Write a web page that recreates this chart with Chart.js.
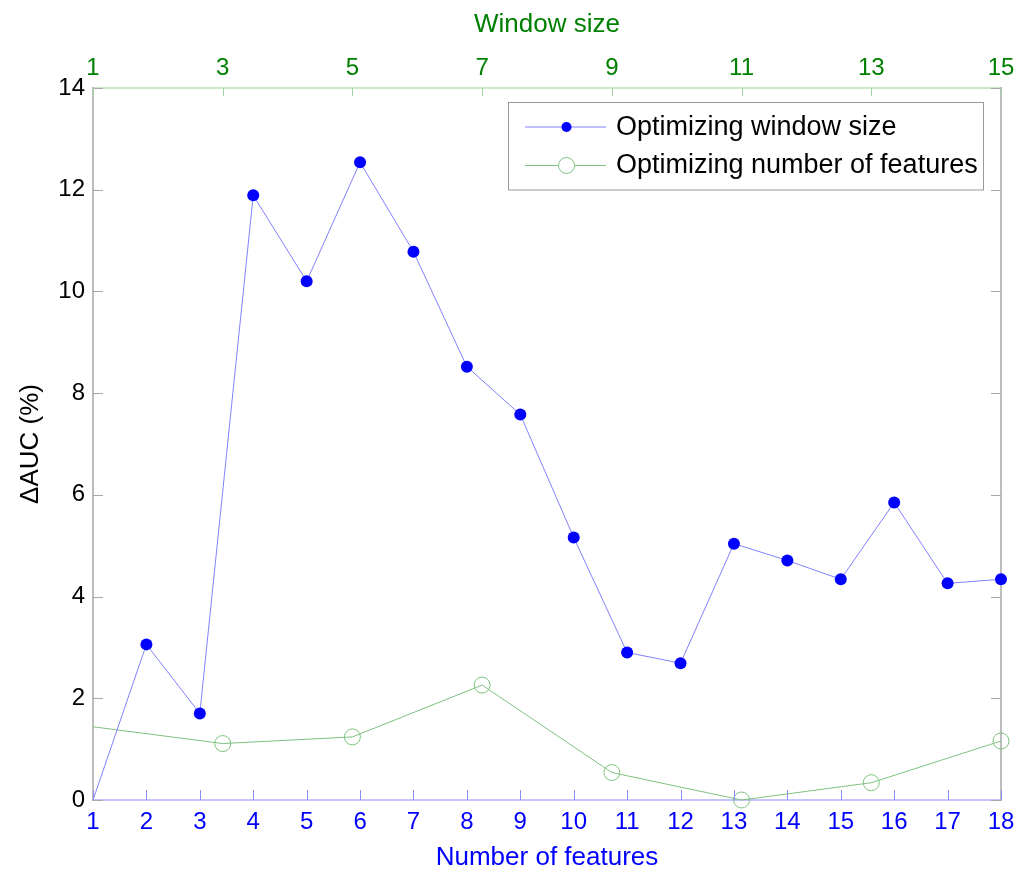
<!DOCTYPE html>
<html><head><meta charset="utf-8">
<script src="https://cdn.jsdelivr.net/npm/chart.js@4.4.1/dist/chart.umd.min.js"></script>
<style>html,body{margin:0;padding:0;background:#fff;overflow:hidden}#wrap{width:1031px;height:869px}</style>
</head><body><div id="wrap"><canvas id="c" width="1031" height="869"></canvas></div>
<script>
// ---- data ----
const featureCounts = [1,2,3,4,5,6,7,8,9,10,11,12,13,14,15,16,17,18];
const windowSizeDeltaAUC = [0,3.06,1.70,11.89,10.20,12.54,10.78,8.52,7.58,5.16,2.90,2.69,5.04,4.71,4.34,5.85,4.26,4.34];
const windowSizes = [1,3,5,7,9,11,13,15];
const featuresDeltaAUC = [1.44,1.11,1.24,2.26,0.54,0.00,0.34,1.16];
const yTickValues = [0,2,4,6,8,10,12,14];
const bottomTickValues = [1,2,3,4,5,6,7,8,9,10,11,12,13,14,15,16,17,18];
const topTickValues = [1,3,5,7,9,11,13,15];
const seriesLabels = ['Optimizing window size','Optimizing number of features'];

const FONT = '"Liberation Sans", Arial, sans-serif';
Chart.defaults.font.family = FONT;

const innerTicks = {
  id: 'innerTicks',
  afterDraw(chart) {
    const ctx = chart.ctx, a = chart.chartArea;
    const sx = chart.scales.x, st = chart.scales.xTop, sy = chart.scales.y;
    ctx.save();
    ctx.lineWidth = 1;
    ctx.strokeStyle = '#a8a8a8';
    ctx.beginPath();
    sy.ticks.forEach(t => {
      const p = Math.round(sy.getPixelForValue(t.value)) + 0.5;
      ctx.moveTo(a.left, p); ctx.lineTo(a.left + 10, p);
      ctx.moveTo(a.right - 10, p); ctx.lineTo(a.right, p);
    });
    ctx.stroke();
    ctx.strokeStyle = '#8c8cff';
    ctx.beginPath();
    sx.ticks.forEach(t => {
      const p = Math.round(sx.getPixelForValue(t.value)) + 0.5;
      ctx.moveTo(p, a.bottom - 10); ctx.lineTo(p, a.bottom);
    });
    ctx.stroke();
    ctx.strokeStyle = '#9fd39f';
    ctx.beginPath();
    st.ticks.forEach(t => {
      const p = Math.round(st.getPixelForValue(t.value)) + 0.5;
      ctx.moveTo(p, a.top); ctx.lineTo(p, a.top + 8);
    });
    ctx.stroke();
    ctx.restore();
  }
};

const boxLegend = {
  id: 'boxLegend',
  afterDraw(chart) {
    const ctx = chart.ctx;
    const bx = 508, by = 102.5, bw = 475, bh = 87.5;
    ctx.save();
    ctx.fillStyle = '#fff';
    ctx.fillRect(bx, by, bw, bh);
    ctx.strokeStyle = '#9a9a9a';
    ctx.lineWidth = 1;
    ctx.strokeRect(bx + 0.5, by, bw, bh);
    const rows = [126.5, 165];
    chart.data.datasets.forEach((ds, i) => {
      const yy = rows[i] + 0.5;
      ctx.strokeStyle = ds.borderColor;
      ctx.lineWidth = 1;
      ctx.beginPath(); ctx.moveTo(525, yy); ctx.lineTo(606, yy); ctx.stroke();
      ctx.beginPath();
      ctx.arc(566.5, yy, i === 0 ? 5 : 8, 0, Math.PI * 2);
      if (i === 0) { ctx.fillStyle = ds.pointBackgroundColor; ctx.fill(); }
      else { ctx.fillStyle = '#fff'; ctx.fill(); ctx.strokeStyle = ds.pointBorderColor; ctx.stroke(); }
      ctx.fillStyle = '#000';
      ctx.font = '27px ' + FONT;
      ctx.textBaseline = 'middle';
      ctx.textAlign = 'left';
      ctx.fillText(ds.label, 616, rows[i] + 1);
    });
    ctx.restore();
  }
};

new Chart(document.getElementById('c'), {
  type: 'line',
  data: {
    datasets: [
      {
        label: seriesLabels[0],
        data: featureCounts.map((f, i) => ({x: f, y: windowSizeDeltaAUC[i]})),
        xAxisID: 'x', yAxisID: 'y',
        borderColor: '#8080ff', borderWidth: 1,
        pointRadius: featureCounts.map((f, i) => i === 0 ? 0 : 6),
        pointBackgroundColor: '#0000ff', pointBorderColor: '#0000ff', pointBorderWidth: 0,
        tension: 0, clip: false
      },
      {
        label: seriesLabels[1],
        data: windowSizes.map((w, i) => ({x: w, y: featuresDeltaAUC[i]})),
        xAxisID: 'xTop', yAxisID: 'y',
        borderColor: '#7fc27f', borderWidth: 1,
        pointRadius: windowSizes.map((w, i) => i === 0 ? 0 : 8),
        pointBackgroundColor: 'rgba(0,0,0,0)', pointBorderColor: '#7fc27f', pointBorderWidth: 1,
        tension: 0, clip: false
      }
    ]
  },
  options: {
    responsive: false,
    animation: false,
    layout: {padding: {left: 0, right: 30, top: 0, bottom: 0}},
    plugins: {legend: {display: false}, tooltip: {enabled: false}},
    scales: {
      x: {
        type: 'linear', position: 'bottom', min: 1, max: 18,
        afterBuildTicks: s => { s.ticks = bottomTickValues.map(v => ({value: v})); },
        afterFit: s => { s.height = 69; s.paddingLeft = 0; s.paddingRight = 0; },
        ticks: {color: '#0000ff', font: {size: 24}, padding: 7.5, maxRotation: 0, autoSkip: false},
        grid: {display: true, drawOnChartArea: false, drawTicks: false},
        border: {display: true, color: '#c4c4ff', width: 2},
        title: {display: true, text: 'Number of features', color: '#0000ff', font: {size: 26, lineHeight: 1}, padding: {top: 0, bottom: -2}}
      },
      xTop: {
        type: 'linear', position: 'top', min: 1, max: 15,
        afterBuildTicks: s => { s.ticks = topTickValues.map(v => ({value: v})); },
        afterFit: s => { s.height = 88; s.paddingLeft = 0; s.paddingRight = 0; },
        ticks: {color: '#008000', font: {size: 24}, padding: 5, maxRotation: 0, autoSkip: false},
        grid: {display: true, drawOnChartArea: false, drawTicks: false},
        border: {display: true, color: '#c8e8c8', width: 2},
        title: {display: true, text: 'Window size', color: '#008000', font: {size: 26}, padding: {top: 9, bottom: 0}}
      },
      y: {
        type: 'linear', position: 'left', min: 0, max: 14,
        afterBuildTicks: s => { s.ticks = yTickValues.map(v => ({value: v})); },
        afterFit: s => { s.width = 93; s.paddingTop = 0; s.paddingBottom = 0; },
        ticks: {color: '#000', font: {size: 24}, padding: 8},
        grid: {display: true, drawOnChartArea: false, drawTicks: false},
        border: {display: true, color: '#bdbdbd', width: 2},
        title: {display: true, text: 'ΔAUC (%)', color: '#000', font: {size: 26}, padding: {top: 15, bottom: 0}}
      },
      y2: {
        type: 'linear', position: 'right', min: 0, max: 14,
        afterFit: s => { s.width = 0; },
        ticks: {display: false},
        grid: {display: true, drawOnChartArea: false, drawTicks: false},
        border: {display: true, color: '#bdbdbd', width: 2}
      }
    }
  },
  plugins: [innerTicks, boxLegend]
});
</script>
</body></html>
